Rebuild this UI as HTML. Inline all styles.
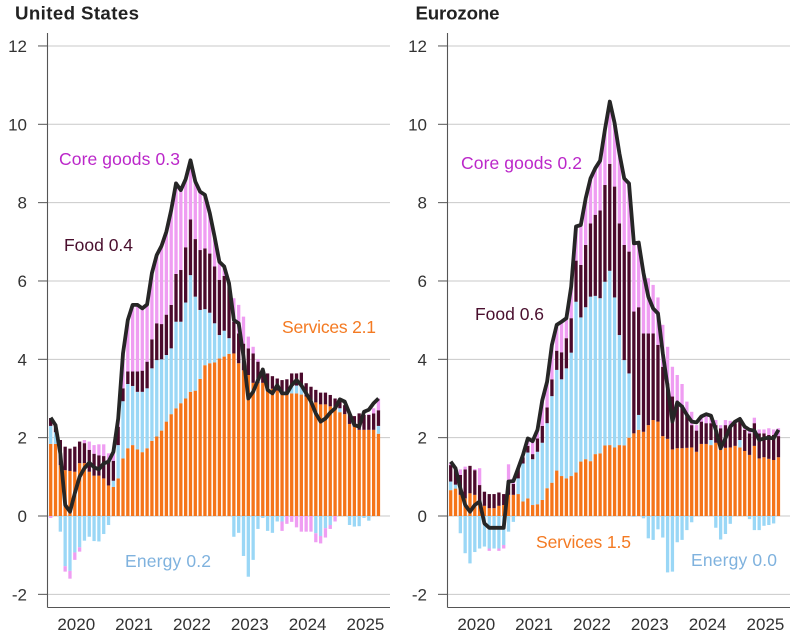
<!DOCTYPE html>
<html lang="en">
<head>
<meta charset="utf-8">
<title>US and Eurozone inflation contributions</title>
<style>
html,body{margin:0;padding:0;background:#fff;width:795px;height:639px;overflow:hidden}
svg{display:block;font-family:"Liberation Sans",sans-serif}
.tick{font-size:17px;fill:#333}
.title{font-size:18.7px;font-weight:bold;fill:#222}
.lab{font-size:17.5px}
</style>
</head>
<body>
<svg id="chart" width="795" height="639" viewBox="0 0 795 639" xmlns="http://www.w3.org/2000/svg">
  <text class="title" x="15" y="19.5" textLength="124">United States</text>
  <text class="title" x="415.5" y="19.5" textLength="84">Eurozone</text>
  <g id="us-panel"></g>
  <g id="ez-panel"></g>
  <text class="lab" x="59" y="165" fill="#bb27c9" textLength="121">Core goods 0.3</text>
  <text class="lab" x="64" y="251" fill="#4a0f2e" textLength="69">Food 0.4</text>
  <text class="lab" x="282" y="333" fill="#f47a22" textLength="94">Services 2.1</text>
  <text class="lab" x="125" y="567" fill="#7fb2de" textLength="86">Energy 0.2</text>
  <text class="lab" x="461" y="169" fill="#bb27c9" textLength="121">Core goods 0.2</text>
  <text class="lab" x="475" y="320" fill="#4a0f2e" textLength="69">Food 0.6</text>
  <text class="lab" x="536" y="548" fill="#f47a22" textLength="95">Services 1.5</text>
  <text class="lab" x="691" y="566" fill="#7fb2de" textLength="86">Energy 0.0</text>
</svg>
<script>
const yearLabels = ["2020","2021","2022","2023","2024","2025"];
const yTicks = [-2,0,2,4,6,8,10,12];

const usServices = [1.84,1.84,1.3,1.17,1.15,1.13,1.35,1.35,1.13,1.03,1.03,.96,.78,.74,.96,1.47,1.73,1.81,1.7,1.63,1.73,1.92,2.03,2.18,2.41,2.6,2.75,2.88,3.0,3.17,3.2,3.5,3.85,3.9,3.92,4.02,4.07,4.14,4.15,3.9,3.72,3.6,3.4,3.4,3.4,3.25,3.25,3.2,3.1,3.1,3.13,3.13,3.1,3.05,2.95,2.9,2.85,2.85,2.8,2.75,2.65,2.6,2.35,2.28,2.2,2.2,2.2,2.2,2.1];
const usEnergy = [.46,.3,-.4,-1.28,-1.4,-.93,-.8,-.63,-.53,-.64,-.65,-.46,-.23,.16,.85,1.46,1.64,1.51,1.47,1.54,1.53,1.85,1.95,1.82,1.7,1.68,2.21,2.08,2.45,2.98,2.4,1.76,1.43,1.29,1.0,.6,.66,.4,-.53,-.43,-1.02,-1.55,-1.12,-.33,-.05,-.38,-.43,-.14,-.14,0,.22,.2,.2,0,0,-.44,-.51,-.31,-.23,0,.1,0,-.23,-.27,-.26,-.05,-.12,0,.2];
const usFood = [.2,.2,.64,.6,.57,.64,.55,.51,.56,.56,.52,.57,.63,.51,.47,.33,.32,.37,.52,.54,.68,.74,.94,.9,1.03,1.11,1.22,1.32,1.41,1.42,1.47,1.53,1.55,1.51,1.45,1.41,1.4,1.42,.81,.76,.68,.68,.75,.54,.37,.39,.32,.31,.37,.39,.29,.31,.36,.34,.35,.32,.3,.3,.29,.25,.21,.23,.27,.27,.42,.38,.38,.42,.4];
const usCoreGoods = [-.05,0,0,-.14,-.2,-.19,-.11,.08,.21,.22,.28,.3,.19,.23,.21,.9,1.3,1.7,1.7,1.6,1.45,1.7,1.74,1.98,2.13,2.42,2.35,2.05,1.75,1.5,1.47,1.49,1.37,1.03,.76,.46,.24,0,.6,.73,.69,.3,.17,.06,0,0,0,0,-.24,-.2,-.15,-.29,-.4,-.4,-.4,-.23,-.19,-.24,-.1,-.14,0,0,0,0,0,0,.02,.13,.3];
const usHeadline = [2.51,2.32,1.6,.28,.11,.58,1.0,1.22,1.36,1.24,1.19,1.34,1.39,1.64,2.49,4.15,5.0,5.39,5.39,5.3,5.4,6.2,6.66,6.9,7.26,7.81,8.49,8.32,8.6,9.08,8.54,8.28,8.2,7.73,7.13,6.49,6.37,5.94,5.0,4.92,4.07,3.0,3.17,3.47,3.74,3.22,3.13,3.34,3.13,3.13,3.34,3.47,3.34,3.13,2.92,2.62,2.41,2.49,2.64,2.75,2.98,2.92,2.62,2.32,2.28,2.66,2.71,2.88,3.0];

const ezServices = [.66,.7,.54,.45,.58,.54,.32,.26,.2,.2,.26,.28,.54,.54,.56,.37,.45,.28,.3,.41,.71,.85,1.16,1.02,.96,1.02,1.11,1.39,1.45,1.4,1.58,1.6,1.8,1.81,1.75,1.81,1.8,2.0,2.11,2.2,2.15,2.32,2.45,2.41,2.04,1.97,1.7,1.73,1.73,1.74,1.75,1.64,1.84,1.84,1.81,1.87,1.69,1.74,1.75,1.79,1.75,1.66,1.56,1.79,1.47,1.5,1.46,1.43,1.5];
const ezEnergy = [.22,.1,-.44,-.95,-1.21,-.92,-.83,-.78,-.83,-.83,-.83,-.74,-.4,-.15,.4,.97,1.17,1.17,1.34,1.46,1.66,2.21,2.57,2.47,2.81,3.15,4.36,3.68,3.88,4.2,4.04,3.96,4.18,4.45,3.83,2.81,2.18,1.64,-.02,.38,-.06,-.57,-.61,-.34,-.55,-1.44,-1.42,-.67,-.61,-.36,-.16,0,0,0,.13,-.3,-.6,-.46,-.2,0,.19,0,-.08,-.36,-.36,-.25,-.23,-.19,0];
const ezFood = [.42,.4,.51,.74,.7,.63,.47,.36,.36,.36,.34,.28,.35,.28,.26,.16,.17,.13,.34,.43,.4,.43,.49,.69,.77,.88,1.05,1.34,1.59,1.87,2.07,2.24,2.47,2.73,2.83,2.85,2.94,3.11,3.11,2.75,2.51,2.34,2.21,1.96,1.77,1.42,1.35,1.15,1.1,.84,.57,.54,.57,.53,.43,.45,.55,.58,.55,.58,.51,.54,.55,.58,.64,.61,.61,.64,.54];
const ezCoreGoods = [.05,.05,.14,.07,0,.03,.43,0,-.06,0,-.06,-.09,.43,.14,0,.06,.19,.33,.22,.66,.66,.88,.66,.78,.51,.81,.87,1.02,1.19,1.15,1.19,1.27,1.41,1.59,1.62,1.79,1.7,1.74,1.74,1.65,1.54,1.41,1.24,1.21,1.07,.93,.76,.72,.54,.34,.34,.14,.13,.23,.19,.13,.08,.13,.13,.04,.03,.08,.09,.14,.1,.1,.17,.14,.2];
const ezHeadline = [1.39,1.22,.71,.28,.11,.28,.37,-.19,-.3,-.3,-.3,-.3,.88,.89,1.22,1.56,1.98,1.91,2.2,2.96,3.43,4.37,4.88,4.96,5.05,5.86,7.39,7.43,8.11,8.62,8.88,9.07,9.86,10.58,10.03,9.26,8.62,8.49,6.96,6.98,6.2,5.6,5.3,5.17,4.15,3.3,2.41,2.9,2.79,2.58,2.41,2.39,2.54,2.6,2.56,2.2,1.73,1.98,2.28,2.41,2.48,2.28,2.2,2.18,1.94,1.98,2.0,1.98,2.2];

const NS = "http://www.w3.org/2000/svg";
const yScale = v => 516 - 39.17 * v;
const colServices = "#f57419", colEnergy = "#9ad7f6", colFood = "#4b0a2c", colCore = "#ef9df2";

function drawPanel(panelId, x0, services, energy, food, coreGoods, headline) {
  const panel = document.getElementById(panelId);
  const xScale = i => x0 + 50.7 + 4.82 * i;
  const axisX = x0 + 47.5;
  const rightX = x0 + 390;

  yTicks.forEach(t => {
    const grid = document.createElementNS(NS, "line");
    
    
    grid.setAttribute("x1", axisX); grid.setAttribute("x2", rightX);
    grid.setAttribute("y1", yScale(t)); grid.setAttribute("y2", yScale(t));
    grid.setAttribute("stroke", "#c9c9c9"); grid.setAttribute("stroke-width", "1");
    panel.appendChild(grid);
    const mark = document.createElementNS(NS, "line");
    
    
    mark.setAttribute("x1", x0 + 38); mark.setAttribute("x2", axisX);
    mark.setAttribute("y1", yScale(t)); mark.setAttribute("y2", yScale(t));
    mark.setAttribute("stroke", "#555"); mark.setAttribute("stroke-width", "1");
    panel.appendChild(mark);
    const label = document.createElementNS(NS, "text");
    
    
    label.setAttribute("class", "tick");
    label.setAttribute("x", x0 + 27); label.setAttribute("y", yScale(t) + 6);
    label.setAttribute("text-anchor", "end");
    label.textContent = String(t);
    panel.appendChild(label);
  });

  function seg(i, from, to, color) {
    if (Math.abs(to - from) < 0.001) return;
    const r = document.createElementNS(NS, "rect");
    
    
    r.setAttribute("x", xScale(i) - 1.65);
    r.setAttribute("width", 3.3);
    r.setAttribute("y", Math.min(yScale(from), yScale(to)));
    r.setAttribute("height", Math.abs(yScale(to) - yScale(from)));
    r.setAttribute("fill", color);
    panel.appendChild(r);
  }

  services.forEach((_, i) => {
    let pos = 0, neg = 0;
    [[services[i], colServices], [energy[i], colEnergy], [food[i], colFood], [coreGoods[i], colCore]].forEach(p => {
      if (p[0] >= 0) { seg(i, pos, pos + p[0], p[1]); pos += p[0]; }
      else { seg(i, neg, neg + p[0], p[1]); neg += p[0]; }
    });
  });

  const path = document.createElementNS(NS, "polyline");
  
  
  path.setAttribute("points", headline.map((v, i) => xScale(i).toFixed(1) + "," + yScale(v).toFixed(1)).join(" "));
  path.setAttribute("fill", "none");
  path.setAttribute("stroke", "#262626");
  path.setAttribute("stroke-width", "3.8");
  path.setAttribute("stroke-linejoin", "round");
  panel.appendChild(path);

  const yAxis = document.createElementNS(NS, "line");
  
  
  yAxis.setAttribute("x1", axisX); yAxis.setAttribute("x2", axisX);
  yAxis.setAttribute("y1", 33); yAxis.setAttribute("y2", 607.5);
  yAxis.setAttribute("stroke", "#555"); yAxis.setAttribute("stroke-width", "1.1");
  panel.appendChild(yAxis);

  const xAxis = document.createElementNS(NS, "line");
  
  
  xAxis.setAttribute("x1", axisX); xAxis.setAttribute("x2", rightX);
  xAxis.setAttribute("y1", 607.5); xAxis.setAttribute("y2", 607.5);
  xAxis.setAttribute("stroke", "#555"); xAxis.setAttribute("stroke-width", "1.1");
  panel.appendChild(xAxis);

  yearLabels.forEach((y, k) => {
    const label = document.createElementNS(NS, "text");
    
    
    label.setAttribute("class", "tick");
    label.setAttribute("x", xScale(12 * k + 5.3));
    label.setAttribute("y", 630);
    label.setAttribute("text-anchor", "middle");
    label.textContent = y;
    panel.appendChild(label);
  });
}

drawPanel("us-panel", 0, usServices, usEnergy, usFood, usCoreGoods, usHeadline);
drawPanel("ez-panel", 400, ezServices, ezEnergy, ezFood, ezCoreGoods, ezHeadline);
</script>
</body>
</html>
